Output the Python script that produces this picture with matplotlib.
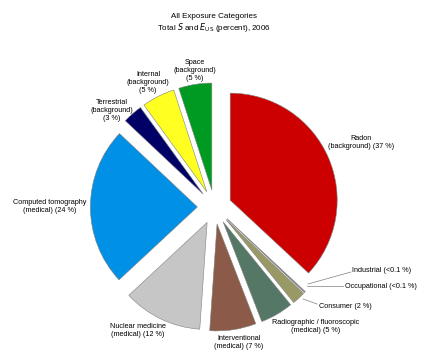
import matplotlib
matplotlib.use("Agg")
import matplotlib.pyplot as plt
import numpy as np

plt.rcParams['font.family'] = ['Liberation Sans', 'DejaVu Sans']

categories = ["Radon (background)", "Industrial", "Occupational", "Consumer",
              "Radiographic / fluoroscopic (medical)", "Interventional (medical)",
              "Nuclear medicine (medical)", "Computed tomography (medical)",
              "Terrestrial (background)", "Internal (background)", "Space (background)"]
values = [37, 0.1, 0.1, 2, 5, 7, 12, 24, 3, 5, 5]
colors = ["#CC0000", "#E0E0E0", "#E0E0E0", "#999966", "#557766", "#8C5A48",
          "#C6C6C6", "#0090E6", "#000066", "#FFFF22", "#009922"]
label_texts = ["Radon\n(background) (37 %)", "Industrial (<0.1 %)", "Occupational (<0.1 %)",
               "Consumer (2 %)", "Radiographic / fluoroscopic\n(medical) (5 %)",
               "Interventional\n(medical) (7 %)", "Nuclear medicine\n(medical) (12 %)",
               "Computed tomography\n(medical) (24 %)", "Terrestrial\n(background)\n(3 %)",
               "Internal\n(background)\n(5 %)", "Space\n(background)\n(5 %)"]

W, H = 428, 364
CX, CY, R = 214.5, 207, 107  # pixel center and radius
FS = 5.2

fig = plt.figure(figsize=(W / 100, H / 100), dpi=100)
ax = fig.add_axes([0, 0, 1, 1])

def px(x, y):
    return ((x - CX) / R, (CY - y) / R)

ax.pie(values, colors=colors, startangle=90, counterclock=False,
       explode=[0.16] * len(values), radius=1.0,
       wedgeprops=dict(edgecolor="#808080", linewidth=0.4))

ax.set_xlim(-CX / R, (W - CX) / R)
ax.set_ylim(-(H - CY) / R, CY / R)
ax.set_aspect('equal', adjustable='box')
ax.axis('off')

# label positions in pixels (center)
label_pos = [(361, 143), None, None, (345, 306), (316, 327), (239, 342),
             (138, 331), (50, 206), (112, 110), (148, 83), (195, 70)]
for txt, pos in zip(label_texts, label_pos):
    if pos is None:
        continue
    x, y = px(*pos)
    ax.text(x, y, txt, ha='center', va='center', fontsize=FS, linespacing=1.2)

# leader-line labels
x, y = px(352, 271)
ax.text(x, y, label_texts[1], ha='left', va='center', fontsize=FS)
ax.plot(*zip(px(351, 272), px(308, 284)), color="#808080", lw=0.5)
x, y = px(345, 286)
ax.text(x, y, label_texts[2], ha='left', va='center', fontsize=FS)
ax.plot(*zip(px(343, 286), px(307, 286)), color="#808080", lw=0.5)
ax.plot(*zip(px(317, 304), px(303, 299)), color="#808080", lw=0.5)

fig.text(0.5, 1 - 17 / H, "All Exposure Categories", ha='center', va='center', fontsize=5.8)
fig.text(0.5, 1 - 28 / H, r"Total $\mathit{S}$ and $\mathit{E}_{\mathrm{US}}$ (percent), 2006",
         ha='center', va='center', fontsize=5.8)

fig.savefig("out.png", dpi=100)
